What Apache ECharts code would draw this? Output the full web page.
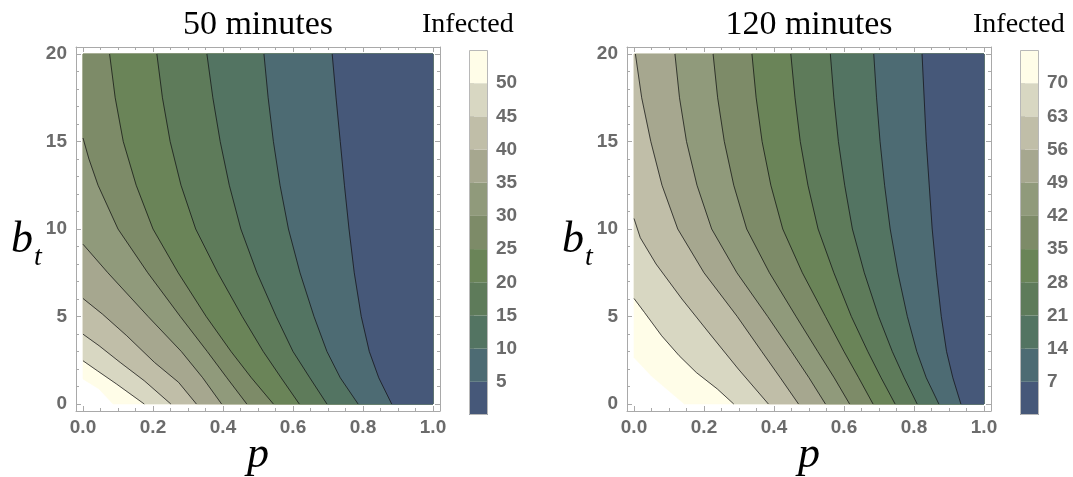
<!DOCTYPE html>
<html>
<head>
<meta charset="utf-8">
<script src="https://cdn.jsdelivr.net/npm/echarts@6/dist/echarts.min.js"></script>
<style>
  html, body { margin: 0; padding: 0; background: #fff; }
  #chart { width: 1073px; height: 477px; }
</style>
</head>
<body>
<div id="chart"></div>
<script>
// ---- Tick labels ----
const pTicks = [0, 0.2, 0.4, 0.6, 0.8, 1.0];
const bTicks = [0, 5, 10, 15, 20];

// ---- Contour levels and colour-bar ranges ----
const levels50 = [5, 10, 15, 20, 25, 30, 35, 40, 45, 50];
const levels120 = [7, 14, 21, 28, 35, 42, 49, 56, 63, 70];
const range50 = [0, 55];
const range120 = [0, 77];

// band colours, lowest band first
const bandColors = ['#465879', '#4d6b73', '#537462', '#5e7b5a', '#6a8458', '#7d8b68',
                    '#909a7b', '#a6a78f', '#c0bea8', '#d8d7c2', '#fffde8'];

// ---- 50 minutes: contour paths [p, b_t], from top/left edge to bottom edge ----
const c50_05 = [[0.712, 20], [0.723, 17.5], [0.735, 15], [0.747, 12.5], [0.760, 10], [0.775, 7.5], [0.795, 5], [0.818, 3], [0.845, 1.5], [0.882, 0]];
const c50_10 = [[0.517, 20], [0.529, 17.5], [0.544, 15], [0.563, 12.5], [0.587, 10], [0.620, 7.5], [0.660, 5], [0.697, 3], [0.735, 1.5], [0.786, 0]];
const c50_15 = [[0.354, 20], [0.371, 17.5], [0.392, 15], [0.418, 12.5], [0.451, 10], [0.497, 7.5], [0.552, 5], [0.600, 3], [0.648, 1.5], [0.697, 0]];
const c50_20 = [[0.211, 20], [0.227, 17.5], [0.249, 15], [0.280, 12.5], [0.322, 10], [0.385, 7.5], [0.455, 5], [0.515, 3], [0.566, 1.5], [0.618, 0]];
const c50_25 = [[0.076, 20], [0.092, 17.5], [0.115, 15], [0.152, 12.5], [0.200, 10], [0.272, 7.5], [0.352, 5], [0.423, 3], [0.481, 1.5], [0.544, 0]];
const c50_30 = [[0, 15.2], [0.017, 14], [0.043, 12.5], [0.100, 10], [0.185, 7.5], [0.278, 5], [0.355, 3], [0.411, 1.5], [0.468, 0]];
const c50_35 = [[0, 9.13], [0.071, 7.5], [0.186, 5], [0.281, 3], [0.342, 1.5], [0.396, 0]];
const c50_40 = [[0, 6.03], [0.056, 5.13], [0.125, 3.9], [0.204, 2.38], [0.273, 1.24], [0.324, 0]];
const c50_45 = [[0, 3.99], [0.046, 3.33], [0.106, 2.38], [0.175, 1.33], [0.251, 0]];
const c50_50 = [[0, 2.47], [0.041, 1.9], [0.096, 1.14], [0.175, 0]];
const c50_top = [[0, 1.43], [0.046, 0.86], [0.086, 0]];   // edge of the range maximum (55)

// ---- 120 minutes ----
const c120_07 = [[0.823, 20], [0.835, 15], [0.852, 10], [0.864, 7.5], [0.878, 5], [0.893, 3], [0.911, 1.5], [0.934, 0]];
const c120_14 = [[0.685, 20], [0.693, 17.5], [0.703, 15], [0.716, 12.5], [0.732, 10], [0.754, 7.5], [0.781, 5], [0.808, 3], [0.835, 1.5], [0.871, 0]];
const c120_21 = [[0.561, 20], [0.571, 17.5], [0.584, 15], [0.602, 12.5], [0.624, 10], [0.658, 7.5], [0.699, 5], [0.738, 3], [0.772, 1.5], [0.809, 0]];
const c120_28 = [[0.448, 20], [0.460, 17.5], [0.475, 15], [0.497, 12.5], [0.526, 10], [0.571, 7.5], [0.621, 5], [0.668, 3], [0.706, 1.5], [0.746, 0]];
const c120_35 = [[0.337, 20], [0.349, 17.5], [0.366, 15], [0.391, 12.5], [0.425, 10], [0.481, 7.5], [0.547, 5], [0.600, 3], [0.642, 1.5], [0.683, 0]];
const c120_42 = [[0.226, 20], [0.239, 17.5], [0.258, 15], [0.285, 12.5], [0.322, 10], [0.387, 7.5], [0.463, 5], [0.525, 3], [0.572, 1.5], [0.616, 0]];
const c120_49 = [[0.117, 20], [0.130, 17.5], [0.150, 15], [0.180, 12.5], [0.222, 10], [0.294, 7.5], [0.382, 5], [0.450, 3], [0.500, 1.5], [0.547, 0]];
const c120_56 = [[0.004, 20], [0.022, 17.5], [0.048, 15], [0.080, 12.5], [0.125, 10], [0.200, 7.5], [0.295, 5], [0.365, 3], [0.418, 1.5], [0.470, 0]];
const c120_63 = [[0, 10.6], [0.018, 9.5], [0.063, 8], [0.137, 6], [0.217, 4], [0.298, 2], [0.384, 0]];
const c120_70 = [[0, 6.03], [0.030, 5.23], [0.079, 3.9], [0.129, 2.76], [0.178, 1.8], [0.238, 0.86], [0.285, 0]];
const c120_top = [[0, 2.66], [0.05, 1.6], [0.144, 0]];    // edge of the range maximum (77)

const contours50 = [c50_05, c50_10, c50_15, c50_20, c50_25, c50_30, c50_35, c50_40, c50_45, c50_50, c50_top];
const contours120 = [c120_07, c120_14, c120_21, c120_28, c120_35, c120_42, c120_49, c120_56, c120_63, c120_70, c120_top];

// ---- Layout ----
const FRAME_TOP = 47, FRAME_SIZE = 364;
const CB_TOP = 50, CB_H = 365, CB_W = 19;
const panels = [
  { left: 76, cbLeft: 469, title: '50 minutes', levels: levels50, range: range50, contours: contours50 },
  { left: 627, cbLeft: 1020, title: '120 minutes', levels: levels120, range: range120, contours: contours120 }
];

const FRAME_COLOR = '#a9a9a9';
const LABEL_COLOR = '#6b6b6b';
const TICK_FONT = { color: LABEL_COLOR, fontFamily: 'Liberation Sans', fontWeight: 'bold', fontSize: 19 };
const SERIF = 'Liberation Serif';

const pMinor = [], bMinor = [];
for (let k = 1; k < 20; k++) if (k % 4) pMinor.push(+(k * 0.05).toFixed(2));
for (let k = 1; k < 20; k++) if (k % 5) bMinor.push(k);

const grids = [], xAxes = [], yAxes = [], series = [], graphics = [];

function frameAxis(kind, gridIndex, position, ticks, len, labels) {
  const isX = kind === 'x';
  const ax = {
    type: 'value', gridIndex, position,
    min: isX ? -0.02 : -0.4, max: isX ? 1.02 : 20.4,
    axisLine: { show: len > 3, onZero: false, lineStyle: { color: FRAME_COLOR, width: 1 } },
    axisTick: { show: true, inside: true, length: len, customValues: ticks, lineStyle: { color: FRAME_COLOR, width: 1 } },
    axisLabel: { show: false },
    splitLine: { show: false }
  };
  if (labels) {
    ax.axisLabel = Object.assign({ show: true, customValues: ticks, margin: isX ? 7 : 9,
      formatter: v => isX ? Number(v).toFixed(1) : String(Math.round(v)) }, TICK_FONT);
  }
  return ax;
}

panels.forEach((pn, k) => {
  const gPlot = grids.length;
  grids.push({ left: pn.left, top: FRAME_TOP, width: FRAME_SIZE, height: FRAME_SIZE, containLabel: false });
  const gBar = grids.length;
  grids.push({ left: pn.cbLeft, top: CB_TOP, width: CB_W, height: CB_H, containLabel: false });

  const xMain = xAxes.length;
  xAxes.push(frameAxis('x', gPlot, 'bottom', pTicks, 5, true));
  xAxes.push(frameAxis('x', gPlot, 'bottom', pMinor, 3, false));
  xAxes.push(frameAxis('x', gPlot, 'top', pTicks, 5, false));
  xAxes.push(frameAxis('x', gPlot, 'top', pMinor, 3, false));
  const yMain = yAxes.length;
  yAxes.push(frameAxis('y', gPlot, 'left', bTicks, 5, true));
  yAxes.push(frameAxis('y', gPlot, 'left', bMinor, 3, false));
  yAxes.push(frameAxis('y', gPlot, 'right', bTicks, 5, false));
  yAxes.push(frameAxis('y', gPlot, 'right', bMinor, 3, false));

  // colour bar axes
  const xBar = xAxes.length;
  xAxes.push({ type: 'value', gridIndex: gBar, min: 0, max: 1, show: false });
  const yBar = yAxes.length;
  yAxes.push({
    type: 'value', gridIndex: gBar, position: 'right', min: pn.range[0], max: pn.range[1],
    axisLine: { show: false },
    axisTick: { show: true, inside: false, length: 5, customValues: pn.levels, lineStyle: { color: '#b5b5b5' } },
    axisLabel: Object.assign({ show: true, customValues: pn.levels, margin: 8 }, TICK_FONT),
    splitLine: { show: false }
  });

  // filled contour bands: each boundary paints the region of lower values to its right
  const cs = pn.contours;
  series.push({
    type: 'custom', xAxisIndex: xMain, yAxisIndex: yMain, silent: true, animation: false, z: 1,
    data: cs.map((_, j) => [cs.length - 1 - j]),
    renderItem(params, api) {
      const j = api.value(0);
      const path = cs[j].slice();
      path.push([1, 0], [1, 20]);
      if (path[0][1] < 20) path.push([0, 20]);
      return {
        type: 'polygon',
        shape: { points: path.map(pt => api.coord(pt)) },
        style: { fill: bandColors[j], stroke: bandColors[j], lineWidth: 0.6 }
      };
    }
  });

  // contour lines
  cs.slice(0, pn.levels.length).forEach(c => {
    series.push({
      type: 'line', xAxisIndex: xMain, yAxisIndex: yMain, data: c, showSymbol: false,
      silent: true, animation: false, z: 3,
      lineStyle: { color: 'rgba(20,20,20,0.75)', width: 1 }
    });
  });

  // colour bar bands
  const lv = pn.levels, rg = pn.range;
  series.push({
    type: 'custom', xAxisIndex: xBar, yAxisIndex: yBar, silent: true, animation: false,
    data: bandColors.map((_, i) => [i]),
    renderItem(params, api) {
      const i = api.value(0);
      const lo = i === 0 ? rg[0] : lv[i - 1];
      const hi = i === lv.length ? rg[1] : lv[i];
      const a = api.coord([0, hi]), b = api.coord([1, lo]);
      return { type: 'rect', shape: { x: a[0], y: a[1], width: b[0] - a[0], height: b[1] - a[1] },
               style: { fill: bandColors[i] } };
    }
  });
  series.push({
    type: 'custom', xAxisIndex: xBar, yAxisIndex: yBar, silent: true, animation: false, z: 3,
    data: [[0]],
    renderItem(params, api) {
      const a = api.coord([0, rg[1]]), b = api.coord([1, rg[0]]);
      return { type: 'rect', shape: { x: a[0] + 0.5, y: a[1] + 0.5, width: b[0] - a[0] - 1, height: b[1] - a[1] - 1 },
               style: { fill: 'none', stroke: '#b8b8b8', lineWidth: 1 } };
    }
  });

  // titles and axis names
  const cx = pn.left + FRAME_SIZE / 2;
  graphics.push({ type: 'text', x: cx, y: 25, style: { text: pn.title, font: '34px "' + SERIF + '"', fill: '#000', align: 'center', verticalAlign: 'middle' } });
  graphics.push({ type: 'text', x: pn.cbLeft - 47, y: 25, style: { text: 'Infected', font: '28px "' + SERIF + '"', fill: '#000', align: 'left', verticalAlign: 'middle' } });
  graphics.push({ type: 'text', x: cx, y: 455, style: { text: 'p', font: 'italic 44px "' + SERIF + '"', fill: '#000', align: 'center', verticalAlign: 'middle' } });
  graphics.push({ type: 'text', x: pn.left - 65, y: 240, style: { text: 'b', font: 'italic 44px "' + SERIF + '"', fill: '#000', align: 'left', verticalAlign: 'middle' } });
  graphics.push({ type: 'text', x: pn.left - 42, y: 258, style: { text: 't', font: 'italic 28px "' + SERIF + '"', fill: '#000', align: 'left', verticalAlign: 'middle' } });
});

const chart = echarts.init(document.getElementById('chart'), null, { renderer: 'canvas' });
chart.setOption({
  animation: false,
  backgroundColor: '#fff',
  grid: grids,
  xAxis: xAxes,
  yAxis: yAxes,
  series: series,
  graphic: graphics
});
</script>
</body>
</html>
